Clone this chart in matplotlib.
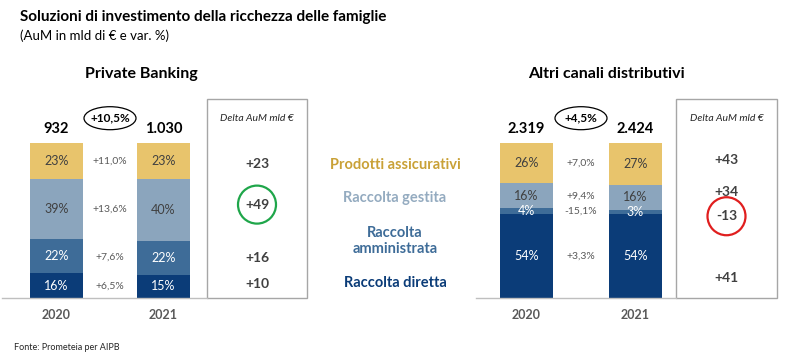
import numpy as np
import matplotlib
matplotlib.use("Agg")
import matplotlib.pyplot as plt
from matplotlib.patches import Rectangle, Ellipse

plt.rcParams["font.family"] = ["Lato", "DejaVu Sans"]

# =========================
# Data
# =========================
years = ["2020", "2021"]
# stacked bottom -> top
categories = ["Raccolta diretta", "Raccolta\namministrata", "Raccolta gestita", "Prodotti assicurativi"]

pb_shares_2020 = [16, 22, 39, 23]
pb_shares_2021 = [15, 22, 40, 23]
pb_totals = ["932", "1.030"]
pb_growth = "+10,5%"
pb_var = ["+6,5%", "+7,6%", "+13,6%", "+11,0%"]
pb_delta = ["+10", "+16", "+49", "+23"]

ac_shares_2020 = [54, 4, 16, 26]
ac_shares_2021 = [54, 3, 16, 27]
ac_totals = ["2.319", "2.424"]
ac_growth = "+4,5%"
ac_var = ["+3,3%", "-15,1%", "+9,4%", "+7,0%"]
ac_delta = ["+41", "-13", "+34", "+43"]

# =========================
# Style
# =========================
seg_colors = ["#0B3C78", "#3E6C98", "#8BA5BD", "#E8C46C"]
seg_text = ["white", "white", "#404040", "#404040"]
legend_colors = ["#0B3C78", "#3E6C98", "#94ABC0", "#C9A137"]
gray = "#595959"

W, H = 794, 360
fig = plt.figure(figsize=(W / 100, H / 100), dpi=100)
fig.patch.set_facecolor("white")


def px(x, y):
    return x / W, 1 - y / H


def panel(shares, totals, growth, var, delta, c0, ppu, a, b, box_l, box_r,
          title, title_x, delta_nudge, circle_idx, circle_col):
    top, bottom = 143, 298
    ax = fig.add_axes([a / W, 1 - bottom / H, (b - a) / W, (bottom - top) / H])
    ax.set_xlim((a - c0) / ppu, (b - c0) / ppu)
    ax.set_ylim(0, 100)
    ax.axis("off")
    yunit = (bottom - top) / 100.0  # px per data unit

    width = 53 / ppu
    x = np.arange(len(years))
    mids = []
    for i, s in enumerate(shares):
        s = np.array(s)
        bots = np.concatenate([[0], np.cumsum(s)[:-1]])
        ax.bar(x[i], s, bottom=bots, width=width, color=seg_colors, linewidth=0)
        for k in range(len(s)):
            ax.text(x[i], bots[k] + s[k] / 2, f"{s[k]}%", ha="center", va="center",
                    color=seg_text[k], fontsize=9)
        mids.append(bots + s / 2)
        ax.text(x[i], 109, totals[i], ha="center", va="center", fontsize=10.5,
                fontweight="bold", color="black", clip_on=False)
        ax.text(x[i], -11, years[i], ha="center", va="center", fontsize=9,
                fontweight="bold", color=gray, clip_on=False)
    mids = np.mean(mids, axis=0)

    # growth variations between bars
    for k in range(len(var)):
        ax.text(0.5, mids[k], var[k], ha="center", va="center", fontsize=7.5, color=gray)

    # growth ellipse
    ax.add_patch(Ellipse((0.5, 116), 52 / ppu, 23 / yunit, fill=False, lw=0.9,
                         edgecolor="black", clip_on=False))
    ax.text(0.5, 116, growth, ha="center", va="center", fontsize=8.5,
            fontweight="bold", color="black", clip_on=False)

    # baseline
    xl = ax.get_xlim()
    ax.plot([xl[0], (box_l - c0) / ppu], [0, 0], color="#BFBFBF", lw=1, clip_on=False)

    # delta box
    bl, br = (box_l - c0) / ppu, (box_r - c0) / ppu
    ax.add_patch(Rectangle((bl, 0), br - bl, (bottom - 99) / yunit, fill=False,
                           edgecolor="#A6A6A6", lw=1, clip_on=False))
    bc = (bl + br) / 2
    ax.text(bc, 100 + 24 / yunit, "Delta AuM mld €", ha="center", va="center",
            fontsize=7.5, style="italic", color="#262626", clip_on=False)
    for k in range(len(delta)):
        yy = mids[k] + delta_nudge[k]
        ax.text(bc, yy, delta[k], ha="center", va="center", fontsize=10,
                fontweight="bold", color="#404040")
        if k == circle_idx:
            ax.add_patch(Ellipse((bc, yy), 38 / ppu, 38 / yunit, fill=False, lw=1.6,
                                 edgecolor=circle_col, clip_on=False))

    fig.text(*px(title_x, 74), title, ha="center", va="center", fontsize=11.5,
             fontweight="bold", color="black")


panel([pb_shares_2020, pb_shares_2021], pb_totals, pb_growth, pb_var, pb_delta,
      c0=56.5, ppu=107, a=2, b=310, box_l=207, box_r=307,
      title="Private Banking", title_x=141, delta_nudge=[1, -1, 3, -2],
      circle_idx=2, circle_col="#1FA64A")

panel([ac_shares_2020, ac_shares_2021], ac_totals, ac_growth, ac_var, ac_delta,
      c0=526.5, ppu=109, a=476, b=780, box_l=676, box_r=777,
      title="Altri canali distributivi", title_x=606, delta_nudge=[-14, -3, 3, 2],
      circle_idx=1, circle_col="#E01E1E")

# legend labels in the middle
leg_y = [283, 241, 198, 165]
for k in range(len(categories)):
    fig.text(*px(395, leg_y[k]), categories[k], ha="center", va="center",
             fontsize=10.5, fontweight="bold", color=legend_colors[k],
             linespacing=1.25)

# titles
fig.text(*px(20, 17), "Soluzioni di investimento della ricchezza delle famiglie",
         ha="left", va="center", fontsize=11, fontweight="bold", color="black")
fig.text(*px(20, 36), "(AuM in mld di € e var. %)", ha="left", va="center",
         fontsize=9.5, color="black")
fig.text(*px(14, 348), "Fonte: Prometeia per AIPB", ha="left", va="center",
         fontsize=6.5, color="#262626")

fig.savefig("out.png", dpi=100, facecolor="white")
